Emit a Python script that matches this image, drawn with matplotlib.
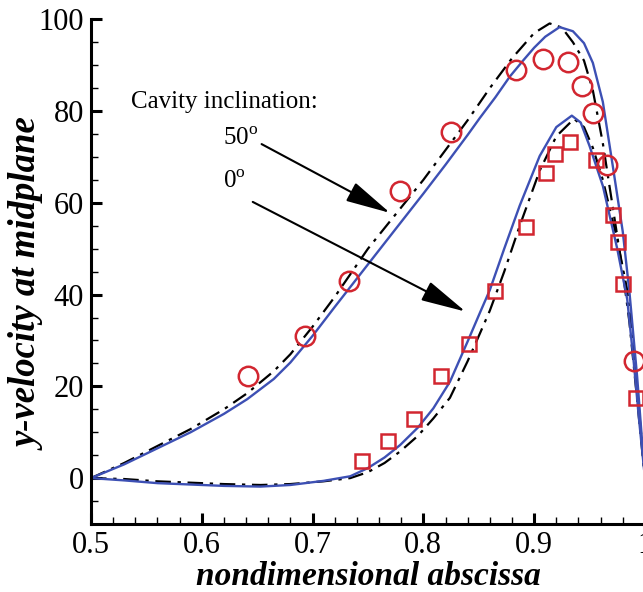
"""
Recreates the y-velocity profile at the cavity midplane for two
cavity inclinations (0 and 50 degrees): two simulated curves each
(solid blue and dash-dot black) plus measured points (red markers).
"""

import matplotlib
matplotlib.use("Agg")
from matplotlib import pyplot as plt
from matplotlib.ticker import MultipleLocator

plt.rcParams['font.family'] = ['Liberation Serif', 'DejaVu Serif']
plt.rcParams['mathtext.fontset'] = 'custom'
plt.rcParams['mathtext.rm'] = 'Liberation Serif'

# 50 deg, solid blue curve
x_50_solid = [0.50, 0.53, 0.56, 0.59, 0.62, 0.641, 0.665, 0.68, 0.70, 0.72, 0.752,
              0.775, 0.80, 0.82, 0.84, 0.851, 0.865, 0.878, 0.89, 0.90, 0.91, 0.923,
              0.935, 0.945, 0.953, 0.962, 0.971, 0.980, 0.986, 0.993, 1.0]
y_50_solid = [0.0, 3.0, 6.5, 10.0, 14.0, 17.2, 21.6, 25.2, 31.0, 37.3, 47.2,
              54.3, 62.0, 68.3, 74.8, 78.5, 83.0, 87.5, 91.0, 93.8, 96.2, 98.3,
              97.4, 94.8, 90.5, 82.0, 68.0, 53.7, 40.6, 22.0, 0.0]

# 50 deg, dash-dot black curve
x_50_dash = [0.50, 0.53, 0.56, 0.59, 0.62, 0.641, 0.665, 0.68, 0.70, 0.72, 0.75,
             0.775, 0.80, 0.82, 0.84, 0.86, 0.88, 0.90, 0.914, 0.925, 0.935, 0.945,
             0.953, 0.962, 0.971, 0.980, 0.986, 0.993, 1.0]
y_50_dash = [0.0, 3.3, 7.0, 10.7, 15.0, 18.5, 23.3, 27.0, 33.0, 39.5, 50.0,
             57.5, 65.0, 71.5, 78.0, 85.0, 91.5, 97.0, 99.1, 98.2, 95.0, 91.0,
             84.5, 73.0, 59.0, 45.0, 34.0, 17.0, 0.0]

# 0 deg, solid blue curve
x_0_solid = [0.50, 0.53, 0.56, 0.59, 0.62, 0.653, 0.68, 0.71, 0.734, 0.75, 0.765,
             0.779, 0.795, 0.809, 0.824, 0.840, 0.851, 0.860, 0.873, 0.887, 0.905,
             0.92, 0.934, 0.942, 0.950, 0.962, 0.975, 0.984, 0.990, 0.995, 1.0]
y_0_solid = [0.0, -0.5, -1.1, -1.4, -1.7, -1.85, -1.5, -0.6, 0.4, 2.2, 4.5,
             7.2, 11.0, 15.2, 21.0, 29.8, 36.0, 41.0, 50.0, 59.4, 70.2,
             76.5, 79.0, 77.5, 72.4, 63.7, 50.0, 39.0, 25.0, 12.0, 0.0]

# 0 deg, dash-dot black curve
x_0_dash = [0.50, 0.53, 0.56, 0.59, 0.62, 0.653, 0.68, 0.71, 0.734, 0.75, 0.765,
            0.779, 0.795, 0.809, 0.824, 0.84, 0.851, 0.86, 0.873, 0.887, 0.905,
            0.92, 0.936, 0.945, 0.953, 0.962, 0.975, 0.984, 0.990, 0.995, 1.0]
y_0_dash = [0.0, -0.2, -0.7, -1.0, -1.3, -1.5, -1.3, -0.7, 0.0, 1.3, 3.3,
            5.8, 9.2, 13.0, 17.5, 25.5, 31.5, 36.5, 45.0, 55.0, 67.0,
            74.5, 78.3, 76.5, 72.0, 65.0, 52.0, 41.0, 28.0, 14.0, 0.0]

# measured points, 50 deg (circles)
x_50_exp = [0.642, 0.693, 0.733, 0.779, 0.825, 0.884, 0.908, 0.931, 0.943,
            0.953, 0.966, 0.990]
y_50_exp = [22.2, 31.0, 43.0, 62.6, 75.4, 89.0, 91.3, 90.7, 85.4,
            79.6, 68.3, 25.6]

# measured points, 0 deg (squares)
x_0_exp = [0.745, 0.768, 0.792, 0.816, 0.841, 0.865, 0.893, 0.911, 0.919,
           0.932, 0.956, 0.971, 0.976, 0.980, 0.992]
y_0_exp = [3.7, 8.0, 12.8, 22.2, 29.3, 40.7, 54.8, 66.5, 70.7,
           73.3, 69.3, 57.4, 51.5, 42.2, 17.4]

blue = '#3d50b4'
red = '#d22630'


def plotProfiles():
    fig = plt.figure(figsize=(6.43, 5.92), dpi=100)
    ax = fig.add_axes([0.1415, 0.1149, 0.8615, 0.8525])

    # simulations
    ax.plot(x_50_dash, y_50_dash, color='black', lw=1.6, dashes=(7, 3, 1.5, 3))
    ax.plot(x_0_dash, y_0_dash, color='black', lw=1.6, dashes=(7, 3, 1.5, 3))
    ax.plot(x_50_solid, y_50_solid, color=blue, lw=1.7)
    ax.plot(x_0_solid, y_0_solid, color=blue, lw=1.7)

    # experiments
    ax.plot(x_50_exp, y_50_exp, 'o', ms=14, mfc='none', mec=red, mew=1.8)
    ax.plot(x_0_exp, y_0_exp, 's', ms=10.5, mfc='none', mec=red, mew=1.8)

    ax.set_xlim(0.5, 1.0)
    ax.set_ylim(-10, 100)

    # axes style
    for side in ['top', 'right']:
        ax.spines[side].set_visible(False)
    for side in ['left', 'bottom']:
        ax.spines[side].set_linewidth(2.2)
    ax.xaxis.set_major_locator(MultipleLocator(0.1))
    ax.xaxis.set_minor_locator(MultipleLocator(0.02))
    ax.yaxis.set_major_locator(MultipleLocator(20))
    ax.yaxis.set_minor_locator(MultipleLocator(5))
    ax.tick_params(which='major', direction='in', length=8, width=2.2,
                   labelsize=22, pad=5)
    ax.tick_params(which='minor', direction='in', length=5, width=1.0)
    ax.tick_params(top=False, right=False, which='both')
    ax.set_xticks([0.5, 0.6, 0.7, 0.8, 0.9, 1.0])
    ax.set_xticklabels(['0.5', '0.6', '0.7', '0.8', '0.9', '1'])

    ax.set_xlabel('nondimensional abscissa', fontsize=24,
                  fontweight='bold', fontstyle='italic')
    ax.set_ylabel('y-velocity at midplane', fontsize=26.5,
                  fontweight='bold', fontstyle='italic')
    ax.xaxis.set_label_coords(0.5, -0.073)
    ax.yaxis.set_label_coords(-0.08, 0.474)

    # annotations
    ax.text(0.536, 82, 'Cavity inclination:', fontsize=18, va='center')
    ax.text(0.651, 74, r'50$^{\mathrm{o}}$', fontsize=18, ha='right', va='center')
    ax.text(0.640, 64.5, r'0$^{\mathrm{o}}$', fontsize=18, ha='right', va='center')
    arrow = dict(arrowstyle='-|>,head_length=1.4,head_width=0.32', color='black',
                 lw=1.5, mutation_scale=20, shrinkA=0, shrinkB=0)
    ax.annotate('', xy=(0.770, 57.8), xytext=(0.654, 72.8), arrowprops=arrow)
    ax.annotate('', xy=(0.838, 36.3), xytext=(0.646, 60.2), arrowprops=arrow)

    fig.savefig('out.png', dpi=100)


def main():
    plotProfiles()


if __name__ == "__main__":
    main()
